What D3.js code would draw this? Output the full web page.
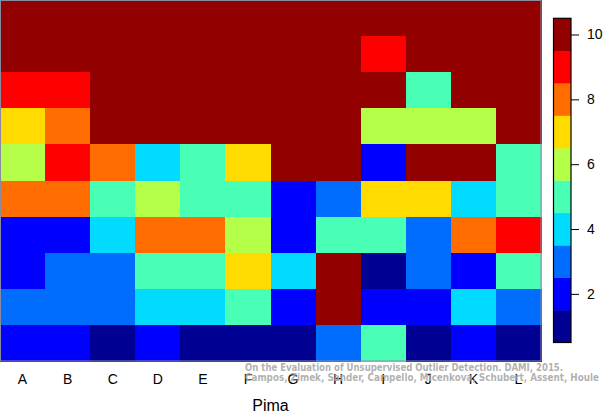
<!DOCTYPE html>
<html>
<head>
<meta charset="utf-8">
<script src="https://cdn.jsdelivr.net/npm/d3@7"></script>
<style>
  html, body { margin: 0; padding: 0; background: #fff; }
  svg { display: block; }
</style>
</head>
<body>
<svg id="chart" width="605" height="413"></svg>
<script>
// Column categories
const columns = ["A","B","C","D","E","F","G","H","I","J","K","L"];
// Row indices, top (r0) to bottom (r9)
const rows = ["r0","r1","r2","r3","r4","r5","r6","r7","r8","r9"];
// Cell values per row (top to bottom), one value per column A..L
const row0 = [10,10,10,10,10,10,10,10,10,10,10,10];
const row1 = [10,10,10,10,10,10,10,10, 9,10,10,10];
const row2 = [ 9, 9,10,10,10,10,10,10,10, 5,10,10];
const row3 = [ 7, 8,10,10,10,10,10,10, 6, 6, 6,10];
const row4 = [ 6, 9, 8, 4, 5, 7,10,10, 2,10,10, 5];
const row5 = [ 8, 8, 5, 6, 5, 5, 2, 3, 7, 7, 4, 5];
const row6 = [ 2, 2, 4, 8, 8, 6, 2, 5, 5, 3, 8, 9];
const row7 = [ 2, 3, 3, 5, 5, 7, 4,10, 1, 3, 2, 5];
const row8 = [ 3, 3, 3, 4, 4, 5, 2,10, 2, 2, 4, 3];
const row9 = [ 2, 2, 1, 2, 1, 1, 1, 3, 5, 1, 2, 1];
const rowValues = [row0,row1,row2,row3,row4,row5,row6,row7,row8,row9];
// Color levels 1..10
const levels = [1,2,3,4,5,6,7,8,9,10];
const palette = ["#000092","#0000FF","#006DFF","#00DBFF","#49FFB6","#B6FF49","#FFDB00","#FF6D00","#FF0000","#920000"];
const colorbarTicks = [2,4,6,8,10];
const xLabel = "Pima";
const credit1 = "On the Evaluation of Unsupervised Outlier Detection. DAMI, 2015.";
const credit2 = "Campos, Zimek, Sander, Campello, Micenkova, Schubert, Assent, Houle";

const svg = d3.select("#chart");
const plot = {left: 0, top: 0, right: 541, bottom: 361};

const x = d3.scaleBand().domain(columns).range([plot.left, plot.right]).padding(0);
const y = d3.scaleBand().domain(rows).range([plot.top, plot.bottom]).padding(0);
const color = d3.scaleOrdinal().domain(levels).range(palette);

const cells = [];
rowValues.forEach((vals, ri) => vals.forEach((v, ci) => cells.push({r: rows[ri], c: columns[ci], v})));

svg.append("g").selectAll("rect").data(cells).join("rect")
  .attr("x", d => x(d.c))
  .attr("y", d => y(d.r))
  .attr("width", x.bandwidth() + 0.5)
  .attr("height", y.bandwidth() + 0.5)
  .attr("fill", d => color(d.v))
  .attr("shape-rendering", "crispEdges");

svg.append("rect")
  .attr("x", plot.left + 0.5).attr("y", plot.top + 0.5)
  .attr("width", plot.right - plot.left - 0.5).attr("height", plot.bottom - plot.top - 0.5)
  .attr("fill", "none").attr("stroke", "#8a8aa0").attr("stroke-width", 1);

// X axis labels
const xAxis = d3.axisBottom(x).tickSize(0).tickPadding(0);
const xg = svg.append("g").attr("transform", `translate(0,${plot.bottom})`).call(xAxis);
xg.select(".domain").remove();
xg.selectAll("text")
  .attr("y", 23).attr("dy", 0)
  .attr("font-family", "Liberation Sans, Arial, sans-serif")
  .attr("font-size", 14).attr("fill", "#000");

svg.append("text")
  .attr("x", (plot.left + plot.right) / 2).attr("y", 411)
  .attr("text-anchor", "middle")
  .attr("font-family", "Liberation Sans, Arial, sans-serif")
  .attr("font-size", 16).attr("fill", "#000")
  .text(xLabel);

// Colorbar
const cb = {x: 553.5, w: 17.5, top: 18.3, bottom: 342.5};
const cy = d3.scaleLinear().domain([0.5, 10.5]).range([cb.bottom, cb.top]);
svg.append("g").selectAll("rect").data(levels).join("rect")
  .attr("x", cb.x)
  .attr("y", d => cy(d + 0.5))
  .attr("width", cb.w)
  .attr("height", d => cy(d - 0.5) - cy(d + 0.5) + 0.3)
  .attr("fill", d => color(d));
svg.append("rect")
  .attr("x", cb.x).attr("y", cb.top)
  .attr("width", cb.w).attr("height", cb.bottom - cb.top)
  .attr("fill", "none").attr("stroke", "#000").attr("stroke-width", 1.2);

const cAxis = d3.axisRight(cy).tickValues(colorbarTicks).tickSize(8).tickPadding(8);
const cg = svg.append("g").attr("transform", `translate(${cb.x + cb.w},0)`).call(cAxis);
cg.select(".domain").remove();
cg.selectAll(".tick line").attr("stroke", "#000").attr("stroke-width", 1);
cg.selectAll("text")
  .attr("font-family", "Liberation Sans, Arial, sans-serif")
  .attr("font-size", 14).attr("fill", "#000");

// Credit watermark
const credit = svg.append("g")
  .attr("font-family", "DejaVu Sans Condensed, DejaVu Sans, sans-serif")
  .attr("font-weight", "bold")
  .attr("font-size", 10.5)
  .attr("fill", "#a8a8a8")
  .attr("fill-opacity", 0.9);
credit.append("text").attr("x", 245).attr("y", 370.5)
  .attr("textLength", 318).attr("lengthAdjust", "spacingAndGlyphs").text(credit1);
credit.append("text").attr("x", 245).attr("y", 381)
  .attr("textLength", 354).attr("lengthAdjust", "spacingAndGlyphs").text(credit2);
</script>
</body>
</html>
